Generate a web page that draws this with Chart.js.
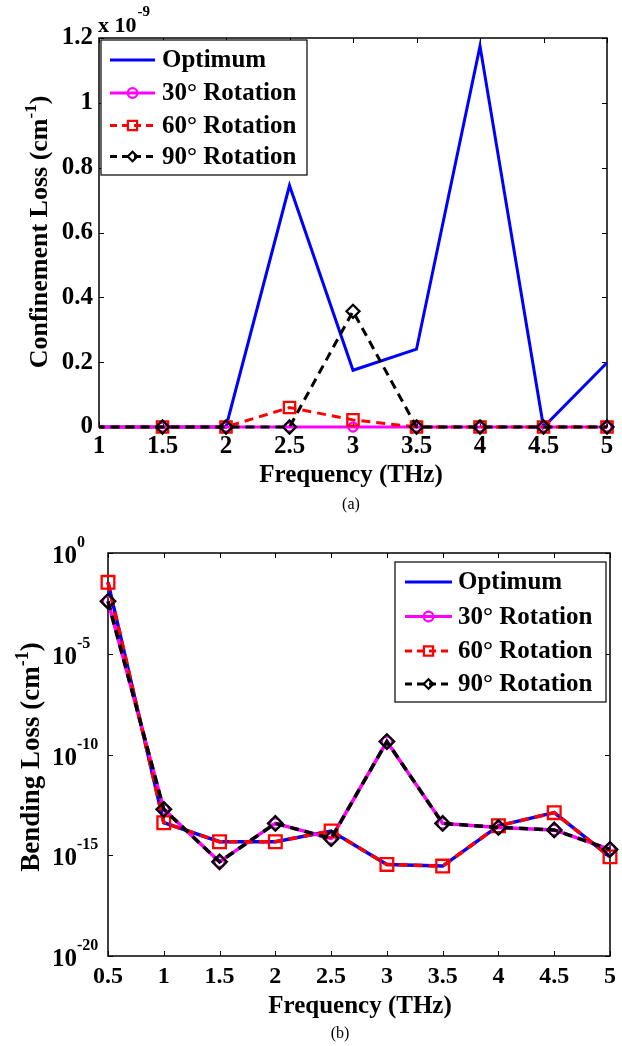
<!DOCTYPE html>
<html>
<head>
<meta charset="utf-8">
<script src="https://cdn.jsdelivr.net/npm/chart.js@4.4.1/dist/chart.umd.min.js"></script>
<style>
  body { margin: 0; background: #fff; width: 622px; height: 1046px; position: relative; overflow: hidden; }
  canvas { position: absolute; left: 0; }
  #chartA { top: 0; }
  #chartB { top: 510px; }
</style>
</head>
<body>
<canvas id="chartA" width="622" height="520"></canvas>
<canvas id="chartB" width="622" height="536"></canvas>
<script>
// frequency (THz), shared by both panels
const freq = [0.5, 1, 1.5, 2, 2.5, 3, 3.5, 4, 4.5, 5];
const seriesLabels = ['Optimum', '30\u00b0 Rotation', '60\u00b0 Rotation', '90\u00b0 Rotation'];

// (a) confinement loss, in units of 1e-9 cm^-1
const confOptimum = [0, 0, 0, 0, 0.745, 0.175, 0.24, 1.175, 0, 0.198];
const conf30 = [0, 0, 0, 0, 0, 0, 0, 0, 0, 0];
const conf60 = [0, 0, 0, 0, 0.06, 0.022, 0, 0, 0, 0];
const conf90 = [0, 0, 0, 0, 0, 0.357, 0, 0, 0, 0];

// (b) bending loss, cm^-1
const bendOptimum = [3.5e-2, 4.1e-14, 4.7e-15, 4.7e-15, 1.6e-14, 3.5e-16, 2.9e-16, 2.9e-14, 1.3e-13, 8.3e-16];
const bend30 = [4e-3, 1.9e-13, 4.7e-16, 3.8e-14, 6.8e-15, 4.4e-10, 3.8e-14, 2.4e-14, 1.8e-14, 1.95e-15];
const bend60 = [3.5e-2, 4.1e-14, 4.7e-15, 4.7e-15, 1.6e-14, 3.5e-16, 2.9e-16, 2.9e-14, 1.3e-13, 8.3e-16];
const bend90 = [4e-3, 1.9e-13, 4.7e-16, 3.8e-14, 6.8e-15, 4.4e-10, 3.8e-14, 2.4e-14, 1.8e-14, 1.95e-15];

// tick values
const topXTicks = [1, 1.5, 2, 2.5, 3, 3.5, 4, 4.5, 5];
const topYTicks = [0, 0.2, 0.4, 0.6, 0.8, 1, 1.2];
const botXTicks = [0.5, 1, 1.5, 2, 2.5, 3, 3.5, 4, 4.5, 5];
const botYExponents = [0, -5, -10, -15, -20];

const FONT = '"Liberation Serif", "Times New Roman", serif';

const styles = [
  { color: '#0000ff', dash: [], marker: null, order: 4 },
  { color: '#ff00ff', dash: [], marker: 'circle', order: 3 },
  { color: '#ff0000', dash: [9, 6], marker: 'rect', order: 2 },
  { color: '#000000', dash: [9, 6], marker: 'rectRot', order: 1 },
];
const markerRadius = { circle: 4.5, rect: 8, rectRot: 6.5 };

function makeDatasets(series, lw, clip, hideAtMin, mScale) {
  return series.map((vals, i) => {
    const st = styles[i];
    const r = st.marker ? markerRadius[st.marker] * mScale : 0;
    return {
      label: seriesLabels[i],
      data: freq.map((f, j) => ({ x: f, y: vals[j] })),
      borderColor: st.color,
      borderWidth: lw,
      borderDash: st.dash,
      pointStyle: st.marker || 'circle',
      pointRadius: c => (hideAtMin && c.raw && c.raw.x <= c.chart.scales.x.min) ? 0 : r,
      pointBorderWidth: 2.3,
      pointBorderColor: st.color,
      pointBackgroundColor: 'rgba(0,0,0,0)',
      tension: 0,
      order: st.order,
      clip: clip,
    };
  });
}

function drawMarker(ctx, type, x, y, r, color) {
  ctx.save();
  ctx.setLineDash([]);
  ctx.strokeStyle = color;
  ctx.lineWidth = 2.2;
  ctx.beginPath();
  if (type === 'circle') {
    ctx.arc(x, y, r, 0, Math.PI * 2);
  } else if (type === 'rect') {
    const s = r * Math.SQRT1_2;
    ctx.rect(x - s, y - s, 2 * s, 2 * s);
  } else if (type === 'rectRot') {
    ctx.moveTo(x, y - r); ctx.lineTo(x + r, y); ctx.lineTo(x, y + r); ctx.lineTo(x - r, y); ctx.closePath();
  }
  ctx.stroke();
  ctx.restore();
}

function drawFrame(chart, xVals, yVals) {
  const { ctx, chartArea: a, scales } = chart;
  ctx.save();
  ctx.strokeStyle = '#000';
  ctx.lineWidth = 1.5;
  ctx.strokeRect(a.left, a.top, a.right - a.left, a.bottom - a.top);
  ctx.lineWidth = 1;
  ctx.beginPath();
  xVals.forEach(v => {
    const px = Math.round(scales.x.getPixelForValue(v)) + 0.5;
    ctx.moveTo(px, a.bottom); ctx.lineTo(px, a.bottom - 5);
    ctx.moveTo(px, a.top); ctx.lineTo(px, a.top + 5);
  });
  yVals.forEach(v => {
    const py = Math.round(scales.y.getPixelForValue(v)) + 0.5;
    ctx.moveTo(a.left, py); ctx.lineTo(a.left + 5, py);
    ctx.moveTo(a.right, py); ctx.lineTo(a.right - 5, py);
  });
  ctx.stroke();
  ctx.restore();
}

function drawLegend(chart, box, rows, lineX, textX, fontSize) {
  const ctx = chart.ctx;
  ctx.save();
  ctx.fillStyle = '#fff';
  ctx.fillRect(box[0], box[1], box[2] - box[0], box[3] - box[1]);
  ctx.strokeStyle = '#000';
  ctx.lineWidth = 1.2;
  ctx.strokeRect(box[0], box[1], box[2] - box[0], box[3] - box[1]);
  chart.data.datasets.forEach((ds, i) => {
    const st = styles[i];
    const y = rows[i];
    ctx.strokeStyle = st.color;
    ctx.lineWidth = 3;
    ctx.setLineDash(st.dash.length ? [7, 5] : []);
    ctx.beginPath();
    ctx.moveTo(lineX[0], y); ctx.lineTo(lineX[1], y);
    ctx.stroke();
    if (st.marker) drawMarker(ctx, st.marker, (lineX[0] + lineX[1]) / 2, y, st.marker === 'rect' ? 6.5 : 4.8, st.color);
    ctx.setLineDash([]);
    ctx.fillStyle = '#000';
    ctx.font = 'bold ' + fontSize + 'px ' + FONT;
    ctx.textBaseline = 'middle';
    ctx.textAlign = 'left';
    ctx.fillText(ds.label, textX, y + 1);
  });
  ctx.restore();
}

// rotated axis title with a superscript part
function drawYTitle(ctx, cx, cy, main, sup, tail, size) {
  ctx.save();
  ctx.translate(cx, cy);
  ctx.rotate(-Math.PI / 2);
  ctx.fillStyle = '#000';
  ctx.textBaseline = 'alphabetic';
  ctx.textAlign = 'left';
  const fMain = 'bold ' + size + 'px ' + FONT;
  const fSup = 'bold ' + Math.round(size * 0.66) + 'px ' + FONT;
  ctx.font = fMain; const w1 = ctx.measureText(main).width; const w3 = ctx.measureText(tail).width;
  ctx.font = fSup; const w2 = ctx.measureText(sup).width;
  let x = -(w1 + w2 + w3) / 2;
  const base = size * 0.33;
  ctx.font = fMain; ctx.fillText(main, x, base); x += w1;
  ctx.font = fSup; ctx.fillText(sup, x, base - size * 0.4); x += w2;
  ctx.font = fMain; ctx.fillText(tail, x, base);
  ctx.restore();
}

function drawCentered(ctx, text, x, y, font) {
  ctx.save();
  ctx.fillStyle = '#000';
  ctx.font = font;
  ctx.textAlign = 'center';
  ctx.textBaseline = 'alphabetic';
  ctx.fillText(text, x, y);
  ctx.restore();
}

const tickFont = size => ({ family: FONT, size: size, weight: 'bold' });

// ---------- (a) confinement loss ----------
new Chart(document.getElementById('chartA'), {
  type: 'line',
  data: { datasets: makeDatasets([confOptimum, conf30, conf60, conf90], 3, { left: 0, top: false, right: false, bottom: false }, true, 1) },
  options: {
    responsive: false,
    animation: false,
    events: [],
    layout: { padding: { top: 38, right: 15, left: 0, bottom: 53 } },
    plugins: { legend: { display: false }, tooltip: { enabled: false } },
    scales: {
      x: {
        type: 'linear', min: 1, max: 5,
        afterBuildTicks: s => { s.ticks = topXTicks.map(v => ({ value: v })); },
        afterFit: s => { s.height = 40; },
        grid: { display: false, drawTicks: false },
        border: { display: false },
        ticks: { color: '#000', font: tickFont(25), padding: 5, maxRotation: 0, autoSkip: false, callback: v => String(v) },
      },
      y: {
        type: 'linear', min: 0, max: 1.2,
        afterBuildTicks: s => { s.ticks = topYTicks.map(v => ({ value: v })); },
        afterFit: s => { s.width = 99; },
        grid: { display: false, drawTicks: false },
        border: { display: false },
        ticks: { color: '#000', font: tickFont(25), padding: 6, callback: v => String(Number(v.toFixed(1))) },
      },
    },
  },
  plugins: [{
    id: 'decorA',
    beforeDatasetsDraw: chart => drawFrame(chart, topXTicks, topYTicks),
    afterDraw: chart => {
      const ctx = chart.ctx;
      drawLegend(chart, [101, 40, 307, 175], [60, 93, 125.5, 156.5], [110, 155], 162, 25);
      drawYTitle(ctx, 38, 232, 'Confinement Loss (cm', '-1', ')', 26);
      drawCentered(ctx, 'Frequency (THz)', 351, 482, 'bold 25px ' + FONT);
      drawCentered(ctx, '(a)', 351, 509, '16px ' + FONT);
      // axis multiplier
      ctx.save();
      ctx.fillStyle = '#000';
      ctx.textAlign = 'left';
      ctx.textBaseline = 'alphabetic';
      ctx.font = 'bold 22px ' + FONT;
      ctx.fillText('x 10', 98, 32);
      const w = ctx.measureText('x 10').width;
      ctx.font = 'bold 15px ' + FONT;
      ctx.fillText('-9', 98 + w + 1, 16);
      ctx.restore();
    },
  }],
});

// ---------- (b) bending loss ----------
new Chart(document.getElementById('chartB'), {
  type: 'line',
  data: { datasets: makeDatasets([bendOptimum, bend30, bend60, bend90], 3.5, false, false, 1.12) },
  options: {
    responsive: false,
    animation: false,
    events: [],
    layout: { padding: { top: 43, right: 9, left: 0, bottom: 50 } },
    plugins: { legend: { display: false }, tooltip: { enabled: false } },
    scales: {
      x: {
        type: 'linear', min: 0.5, max: 5,
        afterBuildTicks: s => { s.ticks = botXTicks.map(v => ({ value: v })); },
        afterFit: s => { s.height = 40; },
        grid: { display: false, drawTicks: false },
        border: { display: false },
        ticks: { color: '#000', font: tickFont(24), padding: 6, maxRotation: 0, autoSkip: false, callback: v => String(v) },
      },
      y: {
        type: 'logarithmic', min: 1e-20, max: 1,
        afterBuildTicks: s => { s.ticks = botYExponents.map(e => ({ value: Math.pow(10, e) })); },
        afterFit: s => { s.width = 108; },
        grid: { display: false, drawTicks: false },
        border: { display: false },
        ticks: { display: false },
      },
    },
  },
  plugins: [{
    id: 'decorB',
    beforeDatasetsDraw: chart => drawFrame(chart, botXTicks, botYExponents.map(e => Math.pow(10, e))),
    afterDraw: chart => {
      const ctx = chart.ctx;
      const ys = chart.scales.y;
      ctx.save();
      ctx.fillStyle = '#000';
      ctx.textAlign = 'left';
      ctx.textBaseline = 'alphabetic';
      botYExponents.forEach(e => {
        const py = ys.getPixelForValue(Math.pow(10, e));
        ctx.font = 'bold 25px ' + FONT;
        ctx.fillText('10', 52, py + 10);
        const w = ctx.measureText('10').width;
        ctx.font = 'bold 16px ' + FONT;
        ctx.fillText(String(e), 52 + w, py - 6);
      });
      ctx.restore();
      drawLegend(chart, [395, 52, 606, 192], [72, 106.5, 141, 174], [405, 452], 458, 25);
      drawYTitle(ctx, 30, 247, 'Bending Loss (cm', '-1', ')', 27);
      drawCentered(ctx, 'Frequency (THz)', 360, 503, 'bold 25px ' + FONT);
      drawCentered(ctx, '(b)', 340, 528, '16px ' + FONT);
    },
  }],
});
</script>
</body>
</html>
